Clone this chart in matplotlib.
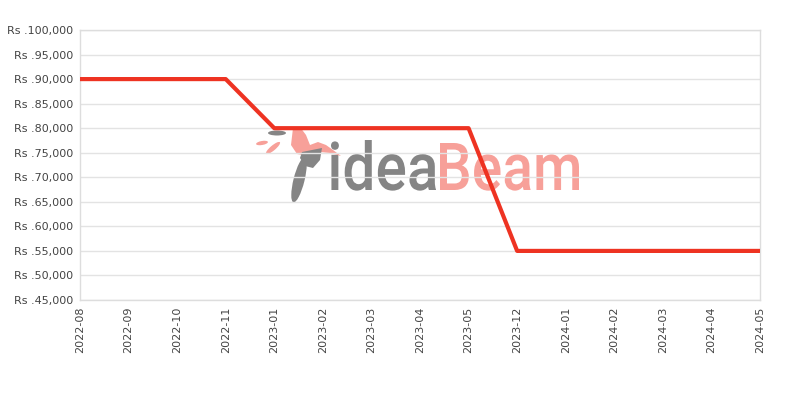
import matplotlib
matplotlib.use("Agg")
import matplotlib.pyplot as plt
from matplotlib.ticker import FuncFormatter, MultipleLocator
from matplotlib.textpath import TextPath
from matplotlib.patches import PathPatch, Polygon, Ellipse
from matplotlib.transforms import Affine2D
from matplotlib.font_manager import FontProperties

categories = ["2022-08", "2022-09", "2022-10", "2022-11", "2023-01", "2023-02",
              "2023-03", "2023-04", "2023-05", "2023-12", "2024-01", "2024-02",
              "2024-03", "2024-04", "2024-05"]
prices = [90000, 90000, 90000, 90000, 80000, 80000, 80000, 80000, 80000,
          55000, 55000, 55000, 55000, 55000, 55000]

W, H = 800, 400
fig = plt.figure(figsize=(8, 4), dpi=100)
ax = fig.add_axes([0.1, 0.25, 0.85, 0.675])

x = list(range(len(categories)))
ax.plot(x, prices, color="#ee3322", linewidth=3.0, zorder=3, solid_capstyle="butt")

ax.set_xlim(0, len(categories) - 1)
ax.set_ylim(45000, 100000)
ax.yaxis.set_major_locator(MultipleLocator(5000))
ax.yaxis.set_major_formatter(FuncFormatter(lambda v, p: "Rs ." + format(int(v), ",")))
ax.set_xticks(x)
ax.set_xticklabels(categories, rotation=90)

ax.grid(axis="y", color="#e3e3e3", linewidth=1)
ax.set_axisbelow("line")
for s in ax.spines.values():
    s.set_color("#dddddd")
    s.set_linewidth(1)
ax.tick_params(length=0, labelsize=8, colors="#444444", pad=5)

# ---- watermark logo (decoration, pixel coordinates with y downward) ----
px = Affine2D().scale(1.0 / W, -1.0 / H).translate(0, 1) + fig.transFigure
GRAY = "#858585"
PINK = "#f7a099"

def add_word(word, x0, x1, top, base, color):
    tp = TextPath((0, 0), word, size=1, prop=FontProperties(family="Roboto", weight="medium"))
    bb = tp.get_extents()
    sx = (x1 - x0) / bb.width
    sy = (base - top) / bb.y1
    tr = Affine2D().translate(-bb.x0, 0).scale(sx, -sy).translate(x0, base) + px
    ax.add_patch(PathPatch(tp, transform=tr, facecolor=color, edgecolor="none",
                           zorder=1, clip_on=False))

add_word("idea", 331, 436, 140, 190, GRAY)
add_word("Beam", 440, 579, 143, 190, PINK)

def poly(pts, color):
    ax.add_patch(Polygon(pts, closed=True, transform=px, facecolor=color,
                         edgecolor="none", zorder=1, clip_on=False))

def ell(c, w, h, ang, color):
    ax.add_patch(Ellipse(c, w, h, angle=ang, transform=px, facecolor=color,
                         edgecolor="none", zorder=1, clip_on=False))

poly([(293, 128), (300, 127), (306, 135), (310, 145), (318, 142), (326, 145),
      (333, 150), (341, 156), (330, 153), (320, 152), (308, 156), (297, 154),
      (291, 145)], PINK)
poly([(302, 152), (312, 150), (322, 148), (320, 160), (313, 168), (305, 166),
      (300, 158)], GRAY)
ell((299, 180), 11, 46, 14, GRAY)
ell((262, 143), 12, 4, -10, PINK)
ell((273, 148), 5, 18, 50, PINK)
ell((277, 133), 18, 5, 0, GRAY)

fig.savefig("out.png", dpi=100)
